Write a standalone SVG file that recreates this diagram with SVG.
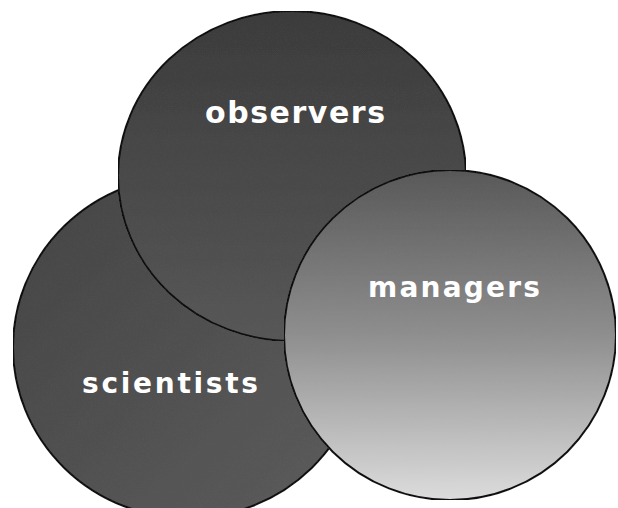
<svg xmlns="http://www.w3.org/2000/svg" width="618" height="508" viewBox="0 0 618 508">
  <defs>
    <linearGradient id="gSci" x1="0" y1="0" x2="1" y2="1">
      <stop offset="0" stop-color="#444444"/>
      <stop offset="1" stop-color="#5c5c5c"/>
    </linearGradient>
    <linearGradient id="gObs" x1="0" y1="0" x2="0" y2="1">
      <stop offset="0" stop-color="#3b3b3b"/>
      <stop offset="1" stop-color="#575757"/>
    </linearGradient>
    <linearGradient id="gMan" x1="0" y1="0" x2="0" y2="1">
      <stop offset="0" stop-color="#585858"/>
      <stop offset="0.5" stop-color="#8e8e8e"/>
      <stop offset="1" stop-color="#dcdcdc"/>
    </linearGradient>
    <filter id="grain" x="0" y="0" width="100%" height="100%">
      <feTurbulence type="fractalNoise" baseFrequency="0.9" numOctaves="1" seed="3" result="n"/>
      <feColorMatrix in="n" type="matrix" values="0 0 0 0 0.5  0 0 0 0 0.5  0 0 0 0 0.5  0 0 0 0.35 0" result="g"/>
      <feComposite in="g" in2="SourceGraphic" operator="in" result="gi"/>
      <feBlend in="SourceGraphic" in2="gi" mode="overlay"/>
    </filter>
  </defs>
  <style>
    .c { stroke: #111111; stroke-width: 2; }
    .lbl { font-family: "DejaVu Sans", "Liberation Sans", sans-serif; font-weight: bold; fill: #ffffff; }
  </style>
  <rect width="618" height="508" fill="#ffffff"/>
  <g id="scientists">
    <ellipse class="c" cx="188" cy="347" rx="175" ry="171" fill="url(#gSci)" filter="url(#grain)"/>
    <text class="lbl" x="82" y="393" font-size="28" textLength="176" lengthAdjust="spacing">scientists</text>
  </g>
  <g id="observers">
    <ellipse class="c" cx="292" cy="176" rx="174" ry="165" fill="url(#gObs)" filter="url(#grain)"/>
    <text class="lbl" x="205" y="123" font-size="30" textLength="180" lengthAdjust="spacing">observers</text>
  </g>
  <g id="managers">
    <ellipse class="c" cx="450" cy="335" rx="166" ry="165" fill="url(#gMan)" filter="url(#grain)"/>
    <text class="lbl" x="368" y="297" font-size="28" textLength="172" lengthAdjust="spacing">managers</text>
  </g>
  <g id="connectors"/>
</svg>
